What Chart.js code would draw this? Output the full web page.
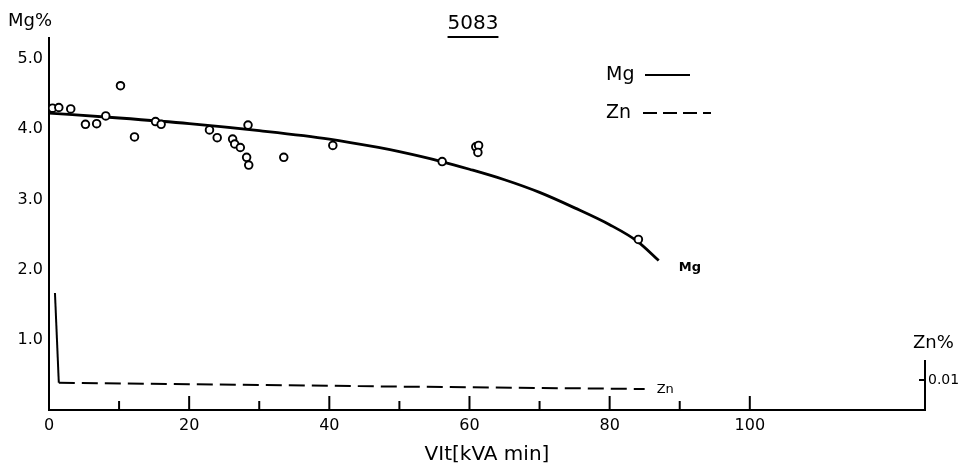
<!DOCTYPE html>
<html>
<head>
<meta charset="utf-8">
<script src="https://cdn.jsdelivr.net/npm/chart.js@4.4.0/dist/chart.umd.min.js"></script>
<style>
  body { margin: 0; background: #fff; }
  #grafico { display: block; }
</style>
</head>
<body>
<canvas id="grafico" width="971" height="469"></canvas>
<script>
// curva de Mg (trazo continuo)
const mgCurvaX = [0, 10, 20, 30, 40, 47, 50, 56, 60, 65, 70, 75, 80, 84, 87];
const mgCurvaY = [4.23, 4.16, 4.08, 3.98, 3.86, 3.74, 3.68, 3.54, 3.43, 3.28, 3.10, 2.88, 2.64, 2.40, 2.13];

// puntos medidos de Mg (circulos abiertos)
const mgPuntosX = [0.5, 1.4, 3.1, 5.2, 6.8, 8.1, 10.2, 12.2, 15.2, 16.0, 22.9, 24.0, 26.2, 26.5, 27.3, 28.2, 28.5, 28.4, 33.5, 40.5, 56.1, 60.9, 61.3, 61.2, 84.1];
const mgPuntosY = [4.30, 4.31, 4.29, 4.07, 4.08, 4.19, 4.62, 3.89, 4.11, 4.07, 3.99, 3.88, 3.86, 3.79, 3.74, 3.60, 3.49, 4.06, 3.60, 3.77, 3.54, 3.75, 3.77, 3.67, 2.43];

// curva de Zn (eje derecho)
const znX = [0.85, 1.4, 20, 50, 85];
const znY = [0.039, 0.0091, 0.0086, 0.0078, 0.0070];

// ticks
const xEtiquetas = [0, 20, 40, 60, 80, 100];
const xMarcas = [10, 20, 30, 40, 50, 60, 70, 80, 90, 100];
const yEtiquetas = [1, 2, 3, 4, 5];
const znEtiquetas = [0.01];
const znEjeTope = 0.0167;

const fuente = 'DejaVu Sans';

function aPuntos(xs, ys) {
    return xs.map((x, i) => ({ x: x, y: ys[i] }));
}

const dibujos = {
    id: 'dibujos',
    afterDraw(chart) {
        const ctx = chart.ctx;
        const area = chart.chartArea;
        const x = chart.scales.x;
        const y2 = chart.scales.y2;
        ctx.save();
        ctx.strokeStyle = '#000';
        ctx.fillStyle = '#000';
        ctx.lineWidth = 2;
        // marcas del eje x hacia arriba
        xMarcas.forEach(v => {
            const px = x.getPixelForValue(v);
            const largo = v % 20 === 0 ? 14 : 9;
            ctx.beginPath();
            ctx.moveTo(px, area.bottom);
            ctx.lineTo(px, area.bottom - largo);
            ctx.stroke();
        });
        // eje corto de Zn
        ctx.beginPath();
        ctx.moveTo(area.right, y2.getPixelForValue(0) + 1);
        ctx.lineTo(area.right, y2.getPixelForValue(znEjeTope));
        ctx.stroke();
        znEtiquetas.forEach(v => {
            const py = y2.getPixelForValue(v);
            ctx.beginPath();
            ctx.moveTo(area.right - 6, py);
            ctx.lineTo(area.right, py);
            ctx.stroke();
        });
        // textos
        ctx.textBaseline = 'middle';
        ctx.textAlign = 'left';
        ctx.font = '18px ' + fuente;
        ctx.fillText('Mg%', 8, 21);
        ctx.fillText('Zn%', 913, 343);
        // titulo subrayado
        ctx.font = '20px ' + fuente;
        ctx.textAlign = 'center';
        const tx = 473;
        ctx.fillText('5083', tx, 24);
        const ancho = ctx.measureText('5083').width;
        ctx.lineWidth = 2;
        ctx.beginPath();
        ctx.moveTo(tx - ancho / 2, 37);
        ctx.lineTo(tx + ancho / 2, 37);
        ctx.stroke();
        // leyenda
        ctx.textAlign = 'left';
        ctx.font = '19px ' + fuente;
        ctx.fillText('Mg', 606, 75);
        ctx.fillText('Zn', 606, 113);
        ctx.beginPath();
        ctx.moveTo(645, 75);
        ctx.lineTo(690, 75);
        ctx.stroke();
        ctx.setLineDash([14, 6]);
        ctx.beginPath();
        ctx.moveTo(643, 113);
        ctx.lineTo(711, 113);
        ctx.stroke();
        ctx.setLineDash([]);
        // etiquetas al final de las curvas
        ctx.font = 'bold 13px ' + fuente;
        const yMg = chart.scales.y;
        const ultimoMg = mgCurvaX.length - 1;
        ctx.fillText('Mg', x.getPixelForValue(mgCurvaX[ultimoMg]) + 20, yMg.getPixelForValue(mgCurvaY[ultimoMg]) + 7);
        ctx.font = '13px ' + fuente;
        const ultimoZn = znX.length - 1;
        ctx.fillText('Zn', x.getPixelForValue(znX[ultimoZn]) + 12, y2.getPixelForValue(znY[ultimoZn]) + 1);
        ctx.restore();
    }
};

const config = {
    type: 'line',
    data: {
        datasets: [{
            label: 'Mg medido',
            data: aPuntos(mgPuntosX, mgPuntosY),
            showLine: false,
            pointRadius: 3.8,
            pointBorderWidth: 1.9,
            pointBorderColor: '#000',
            pointBackgroundColor: '#fff',
            yAxisID: 'y',
            order: 0
        }, {
            label: 'Mg',
            data: aPuntos(mgCurvaX, mgCurvaY),
            borderColor: '#000',
            borderWidth: 2.8,
            pointRadius: 0,
            cubicInterpolationMode: 'monotone',
            yAxisID: 'y',
            order: 1
        }, {
            label: 'Zn',
            data: aPuntos(znX, znY),
            borderColor: '#000',
            borderWidth: 2,
            pointRadius: 0,
            tension: 0,
            segment: {
                borderDash: ctx => ctx.p0DataIndex === 0 ? [] : [16, 7]
            },
            yAxisID: 'y2',
            order: 2
        }]
    },
    options: {
        responsive: false,
        animation: false,
        devicePixelRatio: 1,
        layout: { padding: { top: 38, left: 0, right: 0, bottom: 0 } },
        plugins: { legend: { display: false }, tooltip: { enabled: false } },
        scales: {
            x: {
                type: 'linear',
                min: 0,
                max: 125,
                grid: { display: false, drawTicks: false },
                border: { display: true, color: '#000', width: 2 },
                afterBuildTicks: s => { s.ticks = xEtiquetas.map(v => ({ value: v })); },
                afterFit: s => { s.height = 59; },
                ticks: {
                    color: '#000',
                    padding: 6,
                    maxRotation: 0,
                    font: { family: fuente, size: 16 }
                },
                title: {
                    display: true,
                    text: 'VIt[kVA min]',
                    color: '#000',
                    padding: { top: 0, bottom: 2 },
                    font: { family: fuente, size: 20 }
                }
            },
            y: {
                min: 0,
                max: 5.3,
                grid: { display: false, drawTicks: false },
                border: { display: true, color: '#000', width: 2 },
                afterBuildTicks: s => { s.ticks = yEtiquetas.map(v => ({ value: v })); },
                afterFit: s => { s.width = 49; },
                ticks: {
                    color: '#000',
                    padding: 6,
                    font: { family: fuente, size: 16 },
                    callback: v => v.toFixed(1)
                }
            },
            y2: {
                position: 'right',
                min: 0,
                max: 0.124,
                grid: { display: false, drawTicks: false },
                border: { display: false },
                afterBuildTicks: s => { s.ticks = znEtiquetas.map(v => ({ value: v })); },
                afterFit: s => { s.width = 46; },
                ticks: {
                    color: '#000',
                    padding: 3,
                    font: { family: fuente, size: 14 },
                    callback: v => v.toFixed(2)
                }
            }
        }
    },
    plugins: [dibujos]
};

const grafico = new Chart(document.getElementById('grafico'), config);
</script>
</body>
</html>
